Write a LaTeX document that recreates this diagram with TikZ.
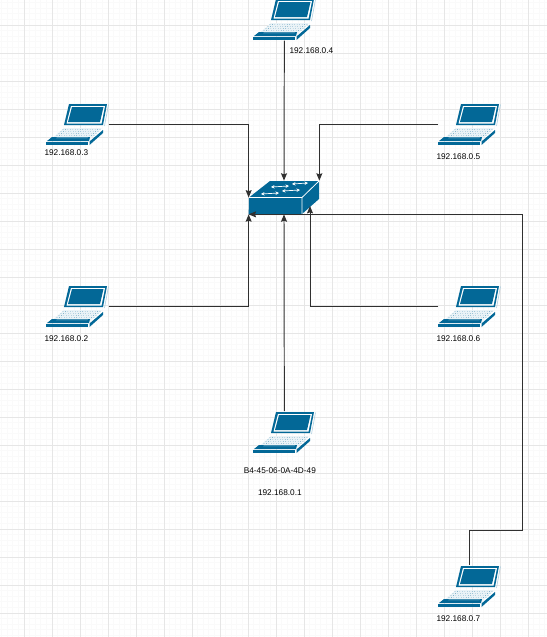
\documentclass[tikz,border=0pt]{standalone}
\usepackage{fontspec}
\setmainfont{Liberation Sans}
\usetikzlibrary{arrows.meta,positioning}
\definecolor{ciscoblue}{HTML}{036897}
\definecolor{gridmajor}{HTML}{E6E6E6}
\definecolor{gridminor}{HTML}{FAFAFA}
\definecolor{wirecol}{HTML}{303030}

\begin{document}
\begin{tikzpicture}[
    x=0.02cm, y=-0.02cm,
    lapbox/.style={rectangle, anchor=north west, inner sep=0pt, minimum width=1.24cm, minimum height=0.84cm},
    swbox/.style={rectangle, inner sep=0pt, minimum width=1.4cm, minimum height=0.66cm},
    lbl/.style={inner sep=0pt, font=\fontsize{4.7}{5.5}\selectfont, text=black},
    wire/.style={-{Stealth[length=4.2pt,width=3.4pt,inset=0.6pt]}, line width=0.55pt, draw=wirecol},
    laptop/.pic={
        % screen
        \fill[ciscoblue] (23,1) -- (61,1) -- (57,22) -- (18,22) -- cycle;
        \fill[white] (25,3) -- (59,3) -- (55.5,20.5) -- (20.5,20.5) -- cycle;
        \fill[ciscoblue] (26,4) -- (57.5,4) -- (54,19) -- (22,19) -- cycle;
        \draw[ciscoblue!35, line width=0.3pt] (62.5,1.5) -- (58.5,23);
        % keyboard
        \fill[ciscoblue!8] (18,25) -- (56,25) -- (43,37) -- (4,37) -- cycle;
        \foreach \ky/\kl/\kr in {26.5/17/54, 28.5/15/52, 30.5/13/50, 32.5/11/48}
            \foreach \kx in {0,...,15}
                \fill[ciscoblue!70] ({\kl+(\kr-\kl)*\kx/15},\ky) circle (0.17pt);
        \fill[ciscoblue] (6,34) -- (44,34) -- (43,38) -- (1,38) -- cycle;
        \fill[white!70!ciscoblue] (11,34.6) -- (42,34.6) -- (41,35.2) -- (10,35.2) -- cycle;
        % front and side
        \fill[ciscoblue] (0,39) -- (42,39) -- (42,42) -- (0,42) -- cycle;
        \fill[ciscoblue] (43.5,38.5) -- (57,27) -- (57,30) -- (43.5,42) -- cycle;
    },
]
    \clip (0,0) rectangle (547,637);

    % Grid
    \foreach \gk in {0,...,100} {
        \draw[gridminor, line width=0.5pt] ({-4+5.6*\gk},0) -- ({-4+5.6*\gk},637);
    }
    \foreach \gk in {0,...,115} {
        \draw[gridminor, line width=0.5pt] (0,{-3+5.6*\gk}) -- (547,{-3+5.6*\gk});
    }
    \foreach \gk in {0,...,19} {
        \draw[gridmajor, line width=0.55pt] ({24+28*\gk},0) -- ({24+28*\gk},637);
    }
    \foreach \gk in {0,...,22} {
        \draw[gridmajor, line width=0.55pt] (0,{25+28*\gk}) -- (547,{25+28*\gk});
    }

    % Switch
    \node[swbox] (sw) at (284,197.5) {};
    \fill[ciscoblue] (sw.south west) -- (249,197.5) -- (270,181) -- (319,181) -- (319,199) -- (302,214) -- cycle;
    \draw[white, line width=0.45pt] (249,197.5) -- (302,197.5) -- (319,181) (302,197.5) -- (302,214);
    \foreach \ax/\ay/\bx/\by in {271/187/289/186, 261/194/279/193, 282/191/300/190, 292/184/308/183} {
        \draw[white, line width=0.4pt, {Stealth[length=2pt,width=2pt]}-{Stealth[length=2pt,width=2pt]}] (\ax,\ay) -- (\bx,\by);
    }

    % Laptops
    \foreach \lname/\lx/\ly in {lap1/253/411, lap2/46/285, lap3/46/103, lap4/253/-2, lap5/438/103, lap6/438/285, lap7/438/565} {
        \node[lapbox] (\lname) at (\lx,\ly) {};
        \pic at (\lx,\ly) {laptop};
    }

    % Labels
    \node[lbl, below=0.28cm of lap1, xshift=-0.09cm] (mac1) {B4-45-06-0A-4D-49};
    \node[lbl, below=0.3cm of mac1] (ip1) {192.168.0.1};
    \node[lbl, below=0.16cm of lap2, xshift=-0.22cm] (ip2) {192.168.0.2};
    \node[lbl, below=0.08cm of lap3, xshift=-0.22cm] (ip3) {192.168.0.3};
    \node[lbl, below=0.14cm of lap4, xshift=0.54cm] (ip4) {192.168.0.4};
    \node[lbl, below=0.16cm of lap5, xshift=-0.22cm] (ip5) {192.168.0.5};
    \node[lbl, below=0.16cm of lap6, xshift=-0.22cm] (ip6) {192.168.0.6};
    \node[lbl, below=0.16cm of lap7, xshift=-0.22cm] (ip7) {192.168.0.7};

    % Wires
    \coordinate (swport) at (310,206);
    \coordinate (bend) at (522,530);
    \draw[wire] (lap1.north) -- (sw.south);
    \draw[wire] (lap2.east) -| (sw.south west);
    \draw[wire] (lap3.east) -| (sw.west);
    \draw[wire] (lap4.south) -- (sw.north);
    \draw[wire] (lap5.west) -| (sw.north east);
    \draw[wire] (lap6.west) -| (swport);
    \draw[wire] (lap7.north) |- (bend) |- (sw.south west);
\end{tikzpicture}
\end{document}
